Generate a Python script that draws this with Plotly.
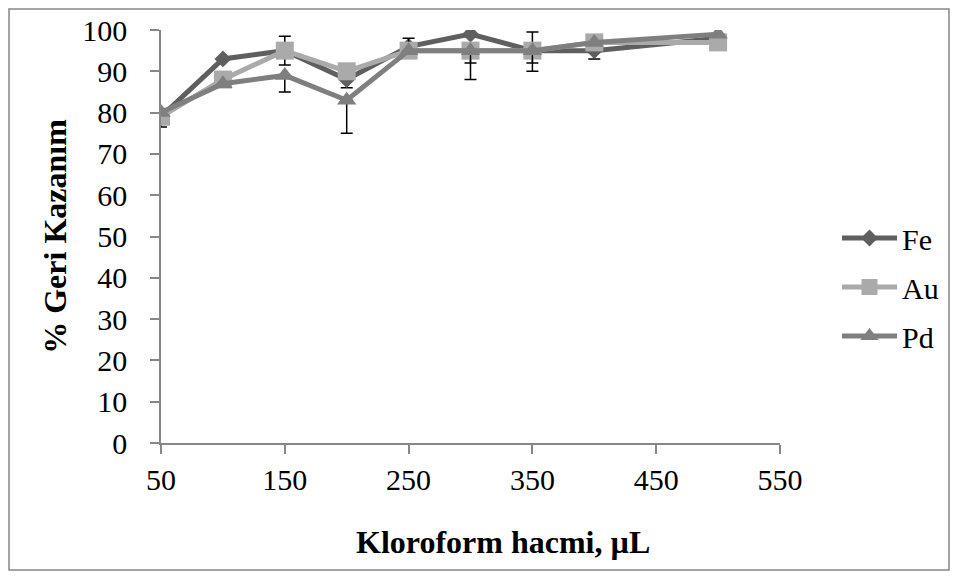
import plotly.graph_objects as go

volumes = [50, 100, 150, 200, 250, 300, 350, 400, 500]
fe = [79, 93, 95, 88, 96, 99, 95, 95, 98]
au = [79, 88, 95, 90, 95, 95, 95, 97, 97]
pd_ = [80, 87, 89, 83, 95, 95, 95, 97, 99]

fe_err_plus = [0, 0, 0, 0, 0, 0, 4.5, 0, 0]
fe_err_minus = [2.5, 0, 0, 2, 0, 0, 0, 2, 0]
au_err_plus = [0, 0, 3.5, 0, 3, 0, 0, 0, 0]
au_err_minus = [0, 0, 3.5, 0, 0, 3, 3, 0, 0]
pd_err_plus = [0, 0, 0, 0, 0, 0, 0, 0, 0]
pd_err_minus = [0, 0, 4, 8, 0, 7, 5, 0, 0]

x_ticks = [50, 150, 250, 350, 450, 550]
x_title = "Kloroform hacmi, µL"
y_title = "% Geri Kazanım"

FONT = "Liberation Serif, Times New Roman, serif"
AXIS = "#878787"

fig = go.Figure()

def add(name, y, ep, em, color, symbol, size):
    fig.add_trace(go.Scatter(
        x=volumes, y=y, name=name, legendgroup=name, mode="lines+markers",
        line=dict(color=color, width=5),
        marker=dict(symbol=symbol, size=size, color=color),
        error_y=dict(type="data", symmetric=False, array=ep, arrayminus=em,
                     color="black", thickness=1.5, width=6),
    ))

add("Fe", fe, fe_err_plus, fe_err_minus, "#5f5f5f", "diamond", 13)
add("Au", au, au_err_plus, au_err_minus, "#aaaaaa", "square", 18)
add("Pd", pd_, pd_err_plus, pd_err_minus, "#7f7f7f", "triangle-up", 17)

# page body has an 8px margin; figure coordinates = page coordinates - 8
W, H = 942, 563
L, R, T, B = 153, 170, 22, 128
pw, ph = W - L - R, H - T - B

def px(xf):
    return (xf - L) / pw

def py(yf):
    return (H - B - yf) / ph

fig.update_layout(
    width=W, height=H,
    margin=dict(l=L, r=R, t=T, b=B, pad=0, autoexpand=False),
    paper_bgcolor="white", plot_bgcolor="white",
    font=dict(family=FONT, size=30, color="black"),
    showlegend=True,
    legend=dict(x=px(829), y=py(204), xanchor="left", yanchor="top",
                font=dict(size=30), tracegroupgap=7, itemwidth=55,
                bgcolor="rgba(0,0,0,0)"),
    xaxis=dict(range=[50, 550], tickvals=x_ticks, showgrid=False, zeroline=False,
               showline=True, linecolor=AXIS, linewidth=1.5,
               ticks="outside", ticklen=9, tickcolor=AXIS, tickwidth=1.5,
               tickfont=dict(size=30), ticklabelstandoff=0),
    yaxis=dict(range=[0, 100], dtick=10, showgrid=False, zeroline=False,
               showline=True, linecolor=AXIS, linewidth=1.5,
               ticks="outside", ticklen=9, tickcolor=AXIS, tickwidth=1.5,
               tickfont=dict(size=30), ticklabelstandoff=17,
               title=dict(text=f"<b>{y_title}</b>", font=dict(size=32), standoff=6)),
    annotations=[dict(text=f"<b>{x_title}</b>", xref="paper", yref="paper",
                      x=px(495), y=py(534), xanchor="center", yanchor="middle",
                      showarrow=False, font=dict(size=32))],
    shapes=[dict(type="rect", xref="paper", yref="paper",
                 x0=px(1), x1=px(941), y0=py(562), y1=py(1),
                 line=dict(color=AXIS, width=1.5), fillcolor="rgba(0,0,0,0)",
                 layer="below")],
)

fig.write_html("out.html")
